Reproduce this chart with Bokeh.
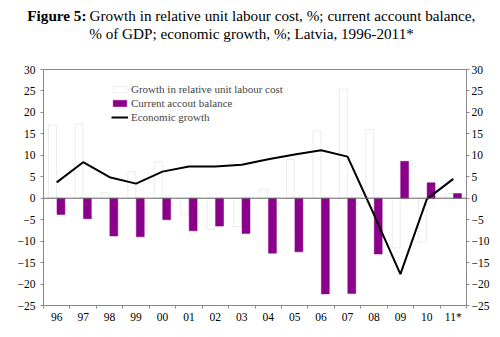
from bokeh.plotting import figure
from bokeh.layouts import column
from bokeh.models import (ColumnDataSource, Range1d, LinearAxis, FixedTicker, Span,
                          Legend, LegendItem)
from bokeh.core.properties import value
from bokeh.transform import dodge
from bokeh.embed import file_html
from bokeh.resources import INLINE

years = ["96", "97", "98", "99", "00", "01", "02", "03", "04", "05", "06", "07", "08", "09", "10", "11*"]
rulc_growth = [17.0, 17.3, 1.3, 6.2, 8.5, -3.9, -7.3, -6.6, 2.1, 9.1, 15.6, 25.4, 16.0, -11.6, -10.2, 1.1]
current_account = [-3.8, -4.8, -8.8, -9.0, -5.0, -7.6, -6.5, -8.2, -12.8, -12.5, -22.3, -22.2, -13.0, 8.6, 3.6, 1.1]
economic_growth = [3.7, 8.4, 4.9, 3.4, 6.2, 7.4, 7.4, 7.8, 9.1, 10.2, 11.2, 9.7, -3.8, -17.7, -0.2, 4.5]
y_ticks = [-25, -20, -15, -10, -5, 0, 5, 10, 15, 20, 25, 30]
title_bold = "Figure 5:"
title_line1 = "Growth in relative unit labour cost, %; current account balance,"
title_line2 = "% of GDP; economic growth, %; Latvia, 1996-2011*"

FONT = "Liberation Serif"
PURPLE = "#8B008B"
AXIS_GRAY = "#8a8a8a"
TITLE_SIZE = "15.2px"

# ---- title strip ----
TH = 60
t = figure(width=500, height=TH, output_backend="svg", toolbar_location=None,
           x_range=Range1d(0, 500), y_range=Range1d(0, TH),
           min_border=0, min_border_left=0, min_border_right=0, min_border_top=0, min_border_bottom=0)
t.frame_align = False
t.axis.visible = False
t.grid.visible = False
t.outline_line_color = None
t.text(x=[86], y=[TH - 15], text=[title_bold], text_align="right", text_baseline="middle",
       text_font=value(FONT), text_font_size=TITLE_SIZE, text_font_style="bold", text_color="black")
t.text(x=[89], y=[TH - 15], text=[title_line1], text_align="left", text_baseline="middle",
       text_font=value(FONT), text_font_size=TITLE_SIZE, text_color="black")
t.text(x=[251], y=[TH - 33], text=[title_line2], text_align="center", text_baseline="middle",
       text_font=value(FONT), text_font_size=TITLE_SIZE, text_color="black")

# ---- main chart ----
xc = [i + 0.5 for i in range(len(years))]
src = ColumnDataSource(dict(x=xc, rulc=rulc_growth, ca=current_account, eg=economic_growth))

p = figure(width=500, height=337 - TH, output_backend="svg", toolbar_location=None,
           x_range=Range1d(0, len(years)), y_range=Range1d(-25, 30),
           min_border_left=43, min_border_right=34, min_border_top=69 - TH, min_border_bottom=32)
p.frame_align = False
p.xgrid.visible = False
p.ygrid.visible = False
p.outline_line_color = AXIS_GRAY

r_rulc = p.vbar(x=dodge("x", -0.16, range=p.x_range), top="rulc", bottom=0, width=0.3, source=src,
                fill_color="white", line_color="#ececec", line_width=1)
r_ca = p.vbar(x=dodge("x", 0.16, range=p.x_range), top="ca", bottom=0, width=0.3, source=src,
              fill_color=PURPLE, line_color=PURPLE, line_width=0.5)
p.add_layout(Span(location=0, dimension="width", line_color="#666666", line_width=1))
r_eg = p.line(x="x", y="eg", source=src, line_color="black", line_width=2)

xax = p.xaxis[0]
xax.ticker = FixedTicker(ticks=xc, minor_ticks=list(range(len(years) + 1)))
xax.major_label_overrides = {x: y for x, y in zip(xc, years)}
xax.major_tick_line_color = None
xax.major_tick_out = 3
xax.minor_tick_in = 0
xax.minor_tick_out = 3
xax.minor_tick_line_color = AXIS_GRAY
xax.axis_line_color = AXIS_GRAY
xax.major_label_standoff = 2
xax.major_label_text_font = FONT
xax.major_label_text_font_size = "11.5px"
xax.major_label_text_color = "black"

p.yaxis[0].ticker = FixedTicker(ticks=y_ticks)
p.add_layout(LinearAxis(ticker=FixedTicker(ticks=y_ticks)), "right")
for i, ax in enumerate(p.yaxis):
    ax.minor_tick_line_color = None
    ax.major_tick_in = 0
    ax.major_tick_out = 3
    ax.major_tick_line_color = AXIS_GRAY
    ax.axis_line_color = AXIS_GRAY
    ax.major_label_text_font = FONT
    ax.major_label_text_font_size = "11.5px"
    ax.major_label_text_color = "black"
    ax.major_label_standoff = 5 if i == 0 else 2

legend = Legend(items=[
    LegendItem(label="Growth in relative unit labour cost", renderers=[r_rulc]),
    LegendItem(label="Current accout balance", renderers=[r_ca]),
    LegendItem(label="Economic growth", renderers=[r_eg]),
], location=(68, 181), padding=0, margin=0, spacing=0, label_height=14, glyph_height=8,
   glyph_width=17, label_standoff=3, border_line_color=None, background_fill_alpha=0,
   label_text_font=FONT, label_text_font_size="11px")
p.add_layout(legend, "center")

open("out.html", "w").write(file_html(column(t, p, spacing=0), INLINE))
